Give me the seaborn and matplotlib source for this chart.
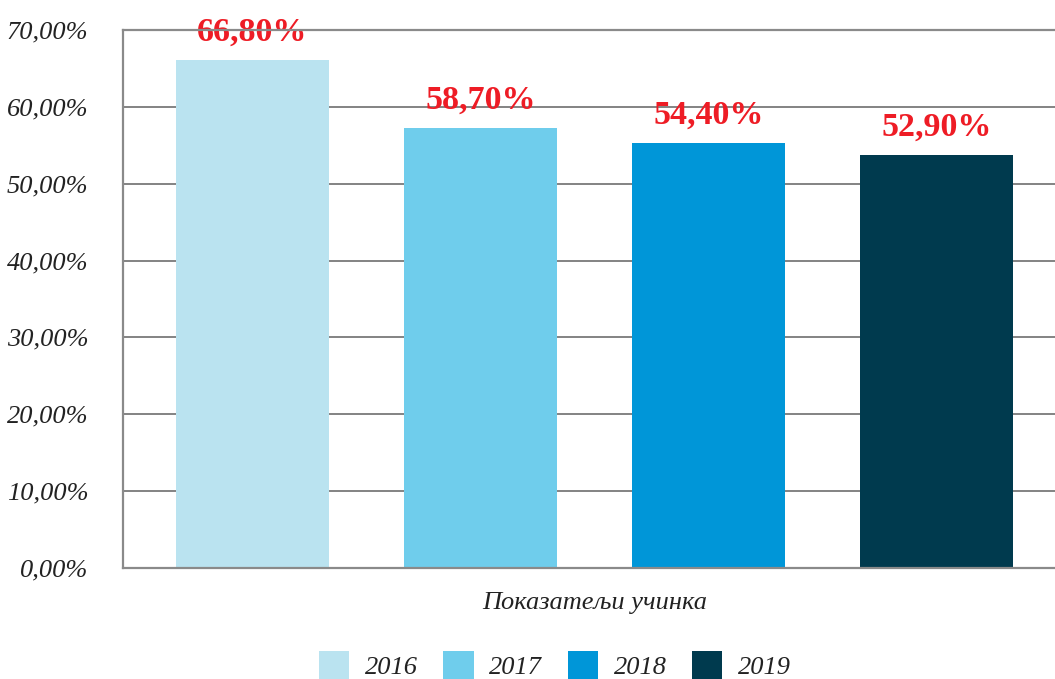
import matplotlib
matplotlib.use("Agg")
import matplotlib.pyplot as plt
import seaborn as sns
import pandas as pd
from matplotlib.ticker import FuncFormatter, MultipleLocator

category = ["Показатељи учинка"]
years = ["2016", "2017", "2018", "2019"]
values = [66.1, 57.2, 55.3, 53.7]
value_labels = ["66,80%", "58,70%", "54,40%", "52,90%"]
colors = ["#BAE3F0", "#6FCDEC", "#0096D8", "#003A4E"]

df = pd.DataFrame({"cat": category * len(years), "year": years, "value": values})

sns.set_theme(style="white")
plt.rcParams["font.family"] = ["Liberation Serif", "DejaVu Serif"]

fig = plt.figure(figsize=(10.55, 6.79), dpi=100)
ax = fig.add_axes([123/1055, 1 - 568/679, (1055-123)/1055, (568-30)/679])

sns.barplot(data=df, x="cat", y="value", hue="year", palette=colors,
            hue_order=years, gap=0.325, width=0.8, ax=ax, legend=True,
            saturation=1, errorbar=None, linewidth=0, zorder=2)

ax.set_xlim(-0.4136, 0.404)
ax.set_ylim(0, 70)
ax.yaxis.set_major_locator(MultipleLocator(10))
ax.yaxis.set_major_formatter(FuncFormatter(lambda v, p: f"{v:.2f}%".replace(".", ",")))
ax.grid(axis="y", color="#6e6e6e", linewidth=1.2, zorder=0)
ax.set_axisbelow(True)

for s in ["left", "bottom", "top"]:
    ax.spines[s].set_color("#8a8a8a")
    ax.spines[s].set_linewidth(1.6)
    ax.spines[s].set_zorder(4)
ax.spines["right"].set_visible(False)

ax.tick_params(axis="y", length=0, pad=25, labelsize=19, labelcolor="#222222")
ax.tick_params(axis="x", length=0, pad=17, labelsize=19, labelcolor="#222222")
for t in ax.get_yticklabels() + ax.get_xticklabels():
    t.set_fontstyle("italic")
ax.set_xlabel("")
ax.set_ylabel("")

for cont, lab in zip(ax.containers, value_labels):
    ax.bar_label(cont, labels=[lab], padding=9, color="#EE1C25",
                 fontsize=24.5, fontweight="bold")

leg = ax.legend(loc="center", bbox_to_anchor=(0.4635, -0.18),
                bbox_transform=ax.transAxes, ncol=4, frameon=False,
                prop={"size": 19, "style": "italic"},
                handlelength=1.15, handleheight=1.25, handletextpad=0.6,
                columnspacing=0.95)
for t in leg.get_texts():
    t.set_color("#222222")

fig.savefig("out.png", dpi=100)
